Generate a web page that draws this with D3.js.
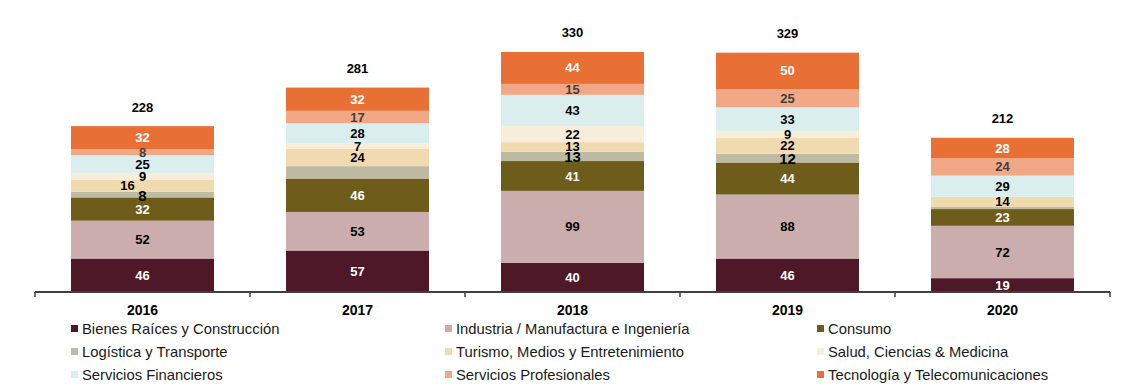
<!DOCTYPE html>
<meta charset="utf-8">
<style>
    body { margin: 0; background: #fff; }
    svg { font-family: "Liberation Sans", Arial, sans-serif; }
    .seg-label { font-weight: bold; font-size: 13px; text-anchor: middle; }
    .total { font-weight: bold; font-size: 13px; text-anchor: middle; fill: #000; }
    .legend text { font-size: 14.8px; fill: #1a1a1a; }
</style>
<svg width="1125" height="389"></svg>
<script src="https://d3js.org/d3.v7.min.js"></script>
<script>

    var years = ["2016", "2017", "2018", "2019", "2020"];

    var sectors = ["Bienes Raíces y Construcción", "Industria / Manufactura e Ingeniería", "Consumo",
                   "Logística y Transporte", "Turismo, Medios y Entretenimiento", "Salud, Ciencias & Medicina",
                   "Servicios Financieros", "Servicios Profesionales", "Tecnología y Telecomunicaciones"];

    // one row per sector, one value per year
    var bienes       = [46, 57, 40, 46, 19];
    var industria    = [52, 53, 99, 88, 72];
    var consumo      = [32, 46, 41, 44, 23];
    var logistica    = [8, 17, 13, 12, 3];
    var turismo      = [16, 24, 13, 22, 14];
    var salud        = [9, 7, 22, 9, 0];
    var financieros  = [25, 28, 43, 33, 29];
    var profesionales = [8, 17, 15, 25, 24];
    var tecnologia   = [32, 32, 44, 50, 28];

    var totals = [228, 281, 330, 329, 212];

    var colors = ["#4e1828", "#cbadae", "#6e5c1a", "#bfbaa2", "#f0dbb0",
                  "#f8edd9", "#daeeee", "#f0a886", "#e87035"];
    var labelColors = ["#fff", "#000", "#fff", "#000", "#000", "#000", "#000", "#404040", "#fff"];

    var series = [bienes, industria, consumo, logistica, turismo, salud, financieros, profesionales, tecnologia];

    var svg = d3.select("svg");

    var x = d3.scaleBand()
        .domain(years)
        .range([35, 1110])
        .paddingInner(0.335)
        .paddingOuter(0.1675);

    var y = d3.scaleLinear()
        .domain([0, 400])
        .range([292, 1]);

    var table = years.map(function(yr, i) {
        var row = {year: yr};
        sectors.forEach(function(s, j) { row[s] = series[j][i]; });
        return row;
    });

    var stacked = d3.stack().keys(sectors)(table);

    var layer = svg.append("g")
        .selectAll("g")
        .data(stacked)
        .enter().append("g")
        .attr("fill", function(d, j) { return colors[j]; });

    layer.selectAll("rect")
        .data(function(d) { return d; })
        .enter().append("rect")
        .attr("x", function(d) { return x(d.data.year); })
        .attr("width", x.bandwidth())
        .attr("y", function(d) { return y(d[1]); })
        .attr("height", function(d) { return y(d[0]) - y(d[1]); });

    // labels (some are hidden in the original)
    function hidden(j, i) {
        var v = series[j][i];
        if (v == 0) return true;
        if (j == 3 && (i == 1 || i == 4)) return true;
        return false;
    }

    stacked.forEach(function(s, j) {
        svg.append("g").selectAll("text")
            .data(s)
            .enter().append("text")
            .filter(function(d, i) { return !hidden(j, i); })
            .attr("class", "seg-label")
            .attr("x", function(d) {
                var cx = x(d.data.year) + x.bandwidth() / 2;
                if (j == 4 && d.data.year == "2016") cx -= 15;
                return cx;
            })
            .attr("y", function(d) { return (y(d[0]) + y(d[1])) / 2; })
            .attr("dy", j == 3 ? "0.4em" : "0.35em")
            .style("font-size", j == 3 ? "15px" : null)
            .attr("fill", labelColors[j])
            .text(function(d) { return d[1] - d[0]; });
    });

    svg.append("g").selectAll("text")
        .data(totals)
        .enter().append("text")
        .attr("class", "total")
        .attr("x", function(d, i) { return x(years[i]) + x.bandwidth() / 2; })
        .attr("y", function(d) { return y(d) - 19; })
        .attr("dy", "0.35em")
        .text(function(d) { return d; });

    // x axis
    var axis = svg.append("g")
        .attr("transform", "translate(0,292)");

    axis.append("line")
        .attr("x1", 35).attr("x2", 1110)
        .attr("stroke", "#404040").attr("stroke-width", 2);

    var tickPos = years.map(function(yr) { return x(yr) - x.step() * x.paddingInner() / 2; });
    tickPos.push(1110);

    axis.selectAll(".tk")
        .data(tickPos)
        .enter().append("line")
        .attr("x1", function(d) { return d; })
        .attr("x2", function(d) { return d; })
        .attr("y1", 0).attr("y2", 5)
        .attr("stroke", "#404040").attr("stroke-width", 1.5);

    axis.selectAll(".yl")
        .data(years)
        .enter().append("text")
        .attr("x", function(d) { return x(d) + x.bandwidth() / 2; })
        .attr("y", 18)
        .attr("dy", "0.35em")
        .attr("text-anchor", "middle")
        .style("font-weight", "bold")
        .style("font-size", "14px")
        .text(function(d) { return d; });

    // legend
    var colX = [71, 445, 817];
    var rowY = [329, 352, 375];

    var legend = svg.append("g")
        .attr("class", "legend")
        .selectAll("g")
        .data(sectors)
        .enter().append("g")
        .attr("transform", function(d, j) {
            return "translate(" + colX[j % 3] + "," + rowY[Math.floor(j / 3)] + ")";
        });

    legend.append("rect")
        .attr("x", 0).attr("y", -4)
        .attr("width", 7).attr("height", 7)
        .attr("fill", function(d, j) { return colors[j]; });

    legend.append("text")
        .attr("x", 11)
        .attr("dy", "0.35em")
        .text(function(d) { return d; });

</script>
